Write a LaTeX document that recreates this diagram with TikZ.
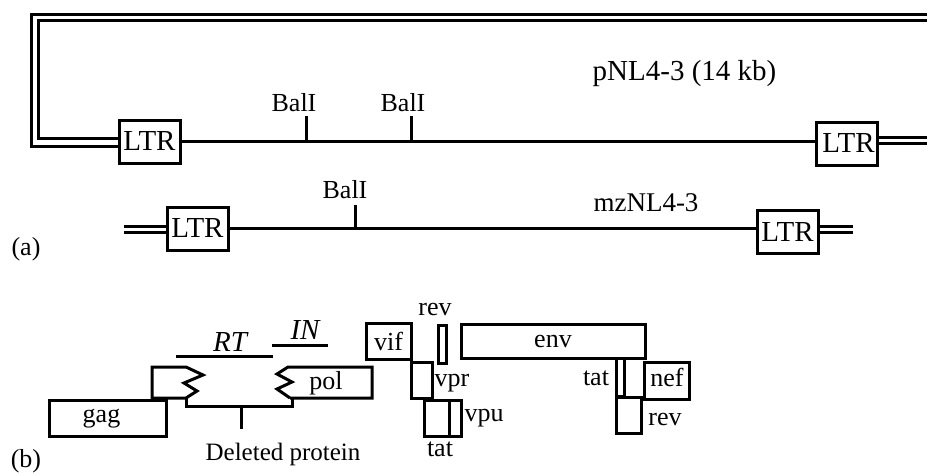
\documentclass[tikz,border=0pt]{standalone}
\usepackage{fontspec}
\setmainfont{Liberation Serif}
\tikzset{
  ln/.style={line width=3pt,line cap=butt,line join=miter,black},
  boxn/.style={draw,line width=3pt,inner sep=0pt,outer sep=0pt,minimum width=#1},
  lbl/.style={inner sep=0pt,outer sep=0pt,font=\fontsize{#1}{#1}\selectfont},
  lbl/.default=26
}
\begin{document}
\begin{tikzpicture}[x=1pt,y=-1pt]
\useasboundingbox (0,0) rectangle (927,474);
% plasmid
\node[boxn=61pt,minimum height=43pt,lbl=29] (L1) at (149.5,141.5) {LTR};
\node[boxn=61pt,minimum height=43pt,lbl=29] (L2) at (846.5,143.5) {\hspace{4pt}LTR};
\node[boxn=61pt,minimum height=43pt,lbl=29] (L3) at (197.5,228.5) {LTR};
\node[boxn=61pt,minimum height=43pt,lbl=29] (L4) at (787.5,232) {LTR};
\coordinate (tr1) at (927,14.5);
\coordinate (tr2) at (927,20.5);
\coordinate (rr1) at (927,137);
\coordinate (rr2) at (927,143);
\draw[ln] (L1.west |- 0,146) -- (31.5,146) -- (31.5,14.5) -- (tr1);
\draw[ln] (L1.west |- 0,138) -- (38,138) -- (38,20.5) -- (tr2);
\draw[ln] (L2.east |- rr1) -- (rr1);
\draw[ln] (L2.east |- rr2) -- (rr2);
\coordinate (t1) at (306,141);
\coordinate (t2) at (411,141);
\coordinate (t1a) at (306,116);
\coordinate (t2a) at (411,116);
\draw[ln] (L1.east |- t1) -- (L2.west |- t1);
\draw[ln] (t1) -- (t1a);
\draw[ln] (t2) -- (t2a);
\node[lbl] (b1) at (294,103) {BalI};
\node[lbl] (b2) at (403,103) {BalI};
\node[lbl=29] (p) at (684.5,74) {pNL4-3 (14 kb)};
% mz
\coordinate (l1) at (124,226.5);
\coordinate (l2) at (124,232);
\coordinate (r1) at (853,226.5);
\coordinate (r2) at (853,232);
\coordinate (t3) at (355,228);
\coordinate (t3a) at (355,205);
\draw[ln] (l1) -- (L3.west |- l1);
\draw[ln] (l2) -- (L3.west |- l2);
\draw[ln] (L4.east |- r1) -- (r1);
\draw[ln] (L4.east |- r2) -- (r2);
\draw[ln] (L3.east |- t3) -- (L4.west |- t3);
\draw[ln] (t3) -- (t3a);
\node[lbl] (b3) at (345,190) {BalI};
\node[lbl=27] (m) at (646,203) {mzNL4-3};
\node[lbl=26] (a) at (26,249) {(a)};
% genes
\node[boxn=117pt,minimum height=36pt] (gag) at (107.5,418) {};
\node[lbl] (gagl) at (101.5,419) {gag};
\draw[ln] (186,398) -- (152,398) -- (152,367) -- (186,367) -- (203,375) -- (184,383) -- (197,391) -- (186,398);
\draw[ln] (290,398) -- (372,398) -- (372,367) -- (288,367) -- (277,374) -- (292,382) -- (277,389) -- (290,398);
\node[lbl] (pol) at (326,383) {pol};
\coordinate (bl) at (186,398);
\coordinate (br) at (292,398);
\coordinate (tk) at (241,406);
\coordinate (tke) at (241,429);
\draw[ln] (bl) -- (186,406) -- (292,406) -- (br);
\draw[ln] (tk) -- (tke);
\node[lbl=25] (del) at (283,454) {Deleted protein};
\coordinate (rt1) at (176,356);
\coordinate (rt2) at (273,356);
\coordinate (in1) at (272,345);
\coordinate (in2) at (328,345);
\draw[ln] (rt1) -- (rt2);
\draw[ln] (in1) -- (in2);
\node[lbl=29,font=\fontsize{29}{29}\selectfont\itshape] (RT) at (230,342) {RT};
\node[lbl=29,font=\fontsize{29}{29}\selectfont\itshape] (IN) at (305,330) {IN};
\node[lbl=26] (b) at (26,461) {(b)};
\node[boxn=45pt,minimum height=36pt,lbl] (vif) at (388.5,341) {vif};
\node[boxn=8pt,minimum height=38pt] (rv) at (442,344) {};
\node[lbl] (rvl) at (435,309) {rev};
\node[boxn=184pt,minimum height=34pt,lbl] (env) at (553,341) {env\hspace{6pt}};
\node[boxn=21pt,minimum height=36pt] (vpr) at (421.5,380) {};
\node[lbl] (vprl) at (452,383) {vpr};
\node[boxn=25pt,minimum height=36pt] (tt) at (436.5,418) {};
\node[boxn=12pt,minimum height=36pt] (vpu) at (455,418) {};
\node[lbl] (vpul) at (484,418) {vpu};
\node[lbl] (ttl) at (440,449) {tat};
\node[boxn=8pt,minimum height=38pt] (tr) at (620,377) {};
\node[lbl] (trl) at (596,378) {tat};
\node[boxn=25pt,minimum height=36pt] (rvb) at (628.5,415) {};
\node[lbl] (rvbl) at (665,419) {rev};
\node[boxn=45pt,minimum height=37pt] (nef) at (666.5,380.5) {};
\node[lbl] (nefl) at (667,377) {nef};
\end{tikzpicture}
\end{document}
